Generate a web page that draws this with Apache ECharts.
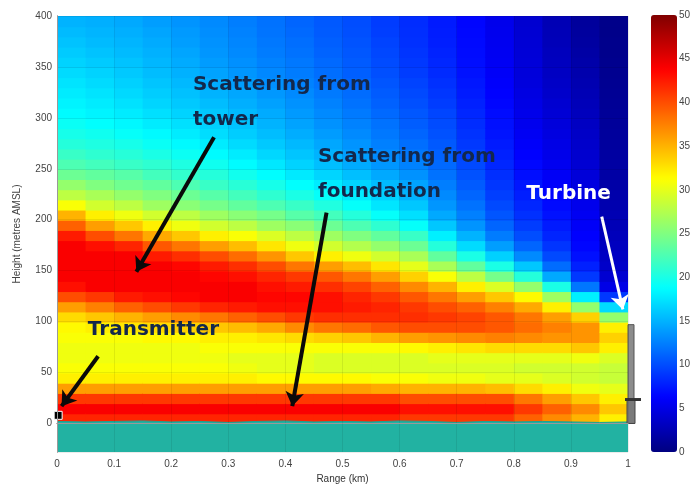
<!DOCTYPE html>
<html>
<head>
<meta charset="utf-8">
<script src="https://cdn.jsdelivr.net/npm/echarts@6/dist/echarts.min.js"></script>
<style>
html, body { margin: 0; padding: 0; background: #fff; }
#chart { width: 693px; height: 489px; }
</style>
</head>
<body>
<div id="chart"></div>
<script>
// field strength grid: one array per 0.05 km column,
// values from 0-10 m up to 390-400 m (10 m rows)
var rangeStarts = [0, 0.05, 0.1, 0.15, 0.2, 0.25, 0.3, 0.35, 0.4, 0.45,
                   0.5, 0.55, 0.6, 0.65, 0.7, 0.75, 0.8, 0.85, 0.9, 0.95];
var heightStarts = [0, 10, 20, 30, 40, 50, 60, 70, 80, 90,
                    100, 110, 120, 130, 140, 150, 160, 170, 180, 190,
                    200, 210, 220, 230, 240, 250, 260, 270, 280, 290,
                    300, 310, 320, 330, 340, 350, 360, 370, 380, 390];

var col00 = [42,44,41,36,32,31,30.5,30.5,31,31.5, 33,36,40,43,44,44,44,44,42.5,39, 35,31,28,26,24,22.5,21.5,20.5,19.8,19.2, 18.6,18.2,17.8,17.4,17,16.6,16.2,15.8,15.4,15];
var col05 = [42,44,41,36,32,31,30.5,30.5,31,32, 34,37.5,41,44,44,44,44,43,40,36, 32,29,27,25,23.5,22,21,20.2,19.5,18.8, 18.2,17.8,17.4,17,16.6,16.2,15.8,15.4,15.1,14.8];
var col10 = [42,44,41,36,32,31,30.5,30.5,31,32.5, 35,39,42.5,44,44,44,44,42,38,34, 30.5,28,26,24.2,23,21.5,20.6,19.8,19,18.4, 17.8,17.3,16.9,16.5,16.1,15.8,15.4,15.1,14.8,14.5];
var col15 = [42,44,41,36,32,31,30.5,30.5,31.5,33, 36,40,43,44,44,44,42.5,39.5,35.5,32, 29,26.5,25,23.5,22,21,20,19.2,18.5,17.8, 17.2,16.7,16.3,15.9,15.5,15.2,14.9,14.6,14.3,14];
var col20 = [42,44,41,36,32,31,30.5,30.5,31.5,33.5, 37,41,43.5,44,44,43.5,41.5,38,34,30.5, 28,25.5,24,22.5,21.2,20.2,19.3,18.5,17.8,17.2, 16.6,16.1,15.7,15.3,14.9,14.6,14.3,14,13.8,13.5];
var col25 = [42,44,41,36,32,31,30.5,31,32,34, 38,42,44,44,43.5,42.5,40,36,32,29, 26.5,24.5,23,21.5,20.5,19.5,18.6,17.8,17.1,16.5, 16,15.5,15,14.6,14.2,13.9,13.6,13.4,13.2,13];
var col30 = [42,44,41,36,32,30.5,30,31,32,34.5, 39,42.5,44,44,43,41.5,38.5,34.5,31,28, 25.5,23.5,22,20.7,19.6,18.6,17.8,17,16.3,15.8, 15.3,14.8,14.4,14,13.6,13.3,13,12.8,12.6,12.4];
var col35 = [42,44,41,36,31.5,30,30,31,32.5,35.5, 40,43,43.5,43,42,40,36.5,32.5,29.5,26.5, 24.5,22.5,21,19.8,18.7,17.6,16.8,16.1,15.5,15, 14.6,14.1,13.7,13.3,12.9,12.6,12.3,12.1,11.9,11.8];
var col40 = [42,44,41,36,31.5,30,30,31,33,37, 41,43,43.5,42.5,41,38,34,30.5,28,25.5, 23,21.5,20,18.8,17.7,16.6,15.9,15.3,14.7,14.2, 13.8,13.4,13,12.6,12.3,12.1,11.8,11.6,11.4,11.2];
var col45 = [42,44,41,36,31.5,29.5,29.5,31,33.5,38, 41.5,43,43,41.5,39.5,36,32,29,26.5,24, 22,20.3,19,17.8,16.7,15.6,15,14.4,13.9,13.4, 13,12.6,12.2,11.9,11.6,11.4,11.1,10.9,10.7,10.6];
var col50 = [42,44,41,36,31.5,29.5,29.5,31,34,38.5, 41.5,42.5,42,40.5,38,34.5,30.5,27.5,25,22.5, 20.5,19,17.8,16.6,15.6,14.6,14,13.5,13,12.6, 12.2,11.8,11.5,11.2,10.9,10.7,10.5,10.3,10.1,10];
var col55 = [42,44,41,35.5,31,29.5,29.5,31,35,39.5, 41.5,42,41,39,36,32.5,29,26,23.5,21, 19,17.5,16.5,15.4,14.5,13.6,13,12.5,12.1,11.8, 11.4,11,10.7,10.4,10.1,9.9,9.7,9.5,9.3,9.2];
var col60 = [41,43,40,35,31,29.5,29.5,31.5,36,40, 41.5,41,39.5,37,33.5,30,27,24,21.5,19, 17.2,16,15,14.2,13.4,12.6,12.1,11.6,11.2,10.8, 10.5,10.1,9.8,9.5,9.2,9,8.8,8.6,8.5,8.4];
var col65 = [41,43,40,35,30.5,29.5,30,32,36.5,40, 41,40,38,35,31,27,23.5,20.5,18,16, 14.5,13.6,13,12.4,11.8,11.4,11,10.6,10.2,9.9, 9.6,9.2,8.9,8.6,8.3,8.1,7.9,7.7,7.6,7.5];
var col70 = [41,43,40,35,30.5,29.5,30,32.5,37,40, 40.5,39,36,32,28,23.5,20,17,15,13.5, 12.5,11.8,11.2,10.7,10.2,9.8,9.4,9,8.7,8.4, 8.1,7.8,7.5,7.3,7.1,6.9,6.8,6.7,6.6,6.5];
var col75 = [41,43,40,34.5,30,29.5,30,33,37.5,39.5, 39.5,37.5,34,29.5,24.5,20,16.5,14,12.3,11.2, 10.4,9.8,9.3,8.9,8.5,8.1,7.8,7.5,7.2,7, 6.8,6.5,6.3,6.1,5.9,5.7,5.6,5.5,5.4,5.3];
var col80 = [39,41,38,33,30,29,30,33,37,38.5, 38,35.5,31.5,26,20.5,16,13,11.2,10,9.2, 8.6,8.1,7.7,7.3,6.9,6.6,6.3,6,5.7,5.4, 5.2,5,4.8,4.6,4.5,4.4,4.3,4.2,4.1,4];
var col85 = [37,39,36,32,29.5,29,30,33,36.5,37.5, 36,32,26.5,20,14.5,11.5,9.8,8.8,8,7.5, 7.1,6.7,6.4,6.1,5.8,5.5,5.2,5,4.7,4.5, 4.2,4,3.7,3.5,3.3,3.1,3,2.8,2.7,2.6];
var col90 = [35,37,34,30.5,29,29,30.5,34,36.5,36.5, 33.5,26,18,12,9,7.8,7,6.5,6.2,5.9, 5.6,5.3,5,4.7,4.4,4.1,3.9,3.7,3.5,3.3, 3,2.8,2.6,2.4,2.2,2,1.8,1.6,1.5,1.4];
var col95 = [32,34,32,30,28.5,28.5,29.5,32,33.5,32, 26,17,9,5,4,3.6,3.3,3.1,2.9,2.7, 2.5,2.3,2.1,1.9,1.8,1.7,1.6,1.5,1.4,1.3, 1.2,1.1,1,0.9,0.8,0.7,0.6,0.6,0.5,0.5];
var fieldColumns = [col00, col05, col10, col15, col20, col25, col30, col35, col40, col45,
                    col50, col55, col60, col65, col70, col75, col80, col85, col90, col95];

// ground surface height (m) every 0.05 km
var terrainRange = [0, 0.05, 0.1, 0.15, 0.2, 0.25, 0.3, 0.35, 0.4, 0.45, 0.5,
                    0.55, 0.6, 0.65, 0.7, 0.75, 0.8, 0.85, 0.9, 0.95, 1];
var terrainHeight = [2, 1.5, 2, 2.5, 1.5, 2, 1, 2, 2.5, 1.5, 2,
                     1.5, 2.5, 2, 1, 2, 1.5, 2, 1.5, 1, 1.5];

var xTicks = [0, 0.1, 0.2, 0.3, 0.4, 0.5, 0.6, 0.7, 0.8, 0.9, 1];

// annotations: [range, height]
var transmitterPos = [0.002, 8];
var turbinePole = [1, 0, 97];
var turbineBase = [1, 0, 24];
var noteTexts = ['Scattering from', 'tower', 'Scattering from', 'foundation', 'Transmitter', 'Turbine'];
var notePos = [[0.238, 332], [0.238, 298], [0.457, 262], [0.457, 227], [0.054, 92], [0.822, 225]];
var arrowFrom = [[0.275, 281], [0.472, 207], [0.072, 66], [0.954, 203]];
var arrowTo = [[0.139, 149], [0.412, 17], [0.008, 17], [0.991, 112]];

var cellW = 0.05, cellH = 10;
var jet = ['#000080', '#0000ff', '#0080ff', '#00ffff', '#80ff80', '#ffff00', '#ff8000', '#ff0000', '#800000'];

var cells = [];
for (var i = 0; i < rangeStarts.length; i++) {
    for (var j = 0; j < heightStarts.length; j++) {
        cells.push([rangeStarts[i], heightStarts[j], fieldColumns[i][j]]);
    }
}
var terrain = terrainRange.map(function (r, k) { return [r, terrainHeight[k]]; });
var notes = noteTexts.map(function (t, k) {
    return {
        name: t, value: notePos[k],
        label: { color: t === 'Turbine' ? '#ffffff' : '#13284c' }
    };
});
var arrows = arrowFrom.map(function (p, k) {
    var white = k === 3;
    return {
        coords: [p, arrowTo[k]],
        lineStyle: { color: white ? '#ffffff' : '#0a0a0a', width: white ? 3 : 4 }
    };
});

function renderCell(params, api) {
    var lo = api.coord([api.value(0), api.value(1)]);
    var hi = api.coord([api.value(0) + cellW, api.value(1) + cellH]);
    return {
        type: 'rect',
        shape: { x: lo[0], y: hi[1], width: hi[0] - lo[0] + 1, height: lo[1] - hi[1] + 1 },
        style: { fill: api.visual('color') }
    };
}

function renderTurbine(params, api) {
    var bottom = api.coord([api.value(0), api.value(1)]);
    var top = api.coord([api.value(0), api.value(2)]);
    var cx = bottom[0] + 3;
    if (params.dataIndex === 0) {
        return {
            type: 'rect',
            shape: { x: cx - 3, y: top[1], width: 6, height: bottom[1] - top[1] },
            style: { fill: '#8c8c8c', stroke: '#555', lineWidth: 1 }
        };
    }
    return {
        type: 'group',
        children: [
            { type: 'rect', shape: { x: cx - 4, y: top[1], width: 8, height: bottom[1] - top[1] },
              style: { fill: '#7a7a7a', stroke: '#444', lineWidth: 1 } },
            { type: 'rect', shape: { x: cx - 6, y: top[1] - 1, width: 16, height: 3 },
              style: { fill: '#333' } }
        ]
    };
}

var axisFont = { color: '#444', fontSize: 10, fontFamily: 'Liberation Sans' };
var gridLine = { show: true, lineStyle: { color: 'rgba(0,0,0,0.08)', width: 1 } };

var chart = echarts.init(document.getElementById('chart'));
chart.setOption({
    animation: false,
    backgroundColor: '#ffffff',
    grid: [
        { left: 57, right: 65, top: 16, bottom: 37 },
        { left: 651, top: 15, width: 26, height: 437 }
    ],
    xAxis: [{
        type: 'value', gridIndex: 0, min: 0, max: 1, interval: 0.1, z: 10,
        axisLine: { show: true, lineStyle: { color: '#777' } },
        axisTick: { show: false },
        axisLabel: Object.assign({ margin: 7, formatter: function (v) {
            return xTicks.indexOf(+v.toFixed(1)) >= 0 ? String(+v.toFixed(1)) : '';
        } }, axisFont),
        splitLine: gridLine,
        name: 'Range (km)', nameLocation: 'middle', nameGap: 20,
        nameTextStyle: { color: '#333', fontSize: 10, fontFamily: 'Liberation Sans' }
    }, {
        type: 'value', gridIndex: 0, min: 0, max: 1, interval: 0.1, position: 'top', z: 10,
        axisLine: { show: true, lineStyle: { color: '#999' } },
        axisTick: { show: false },
        axisLabel: { show: false }, splitLine: { show: false }
    }, {
        type: 'value', gridIndex: 1, min: 0, max: 1, show: false
    }],
    yAxis: [{
        type: 'value', gridIndex: 0, min: -28, max: 400, minInterval: 50, maxInterval: 50, z: 10,
        axisLine: { show: true, lineStyle: { color: '#777' } },
        axisTick: { show: false },
        axisLabel: Object.assign({ margin: 5, formatter: function (v) { return v < 0 ? '' : v; } }, axisFont),
        splitLine: gridLine,
        name: 'Height (metres AMSL)', nameLocation: 'middle', nameGap: 35,
        nameTextStyle: { color: '#444', fontSize: 10, fontFamily: 'Liberation Sans' }
    }, {
        type: 'value', gridIndex: 0, min: -28, max: 400, minInterval: 50, maxInterval: 50,
        position: 'right', z: 10,
        axisLine: { show: true, lineStyle: { color: '#999' } },
        axisTick: { show: false },
        axisLabel: { show: false }, splitLine: { show: false }
    }, {
        type: 'value', gridIndex: 1, min: 0, max: 50, interval: 5, position: 'right', z: 10,
        axisLine: { show: false },
        axisTick: { show: false },
        axisLabel: Object.assign({ margin: 3 }, axisFont),
        splitLine: { show: false }
    }],
    visualMap: {
        type: 'continuous', min: 0, max: 50, dimension: 2, seriesIndex: 0,
        calculable: false, left: 651, top: 15, itemWidth: 26, itemHeight: 437,
        padding: 0, text: null, hoverLink: false,
        inRange: { color: jet }
    },
    series: [{
        type: 'custom', name: 'field', xAxisIndex: 0, yAxisIndex: 0,
        renderItem: renderCell, data: cells, clip: true, silent: true, z: 1,
        encode: { x: 0, y: 1 }
    }, {
        type: 'line', name: 'ground', xAxisIndex: 0, yAxisIndex: 0,
        data: terrain, symbol: 'none', silent: true, z: 2,
        lineStyle: { width: 1, color: '#1f9f92' },
        areaStyle: { color: '#22b2a2', opacity: 1, origin: 'start' }
    }, {
        type: 'custom', name: 'turbine', xAxisIndex: 0, yAxisIndex: 0,
        renderItem: renderTurbine, data: [turbinePole, turbineBase], clip: false, silent: true, z: 4
    }, {
        type: 'scatter', name: 'transmitter', xAxisIndex: 0, yAxisIndex: 0,
        data: [transmitterPos], symbol: 'rect', symbolSize: 8, clip: false, silent: true, z: 5,
        itemStyle: { color: '#000', borderColor: '#fff', borderWidth: 1, opacity: 1 }
    }, {
        type: 'lines', name: 'arrows', coordinateSystem: 'cartesian2d', xAxisIndex: 0, yAxisIndex: 0,
        data: arrows, symbol: ['none', 'arrow'], symbolSize: 14, silent: true, z: 6,
        lineStyle: { opacity: 1, curveness: 0 }
    }, {
        type: 'scatter', name: 'notes', xAxisIndex: 0, yAxisIndex: 0,
        data: notes, symbolSize: 0, clip: false, silent: true, z: 7,
        itemStyle: { opacity: 1 },
        label: {
            show: true, position: 'right', distance: 0, formatter: '{b}',
            fontFamily: 'DejaVu Sans', fontWeight: 'bold', fontSize: 20, verticalAlign: 'middle'
        }
    }]
});
</script>
</body>
</html>
